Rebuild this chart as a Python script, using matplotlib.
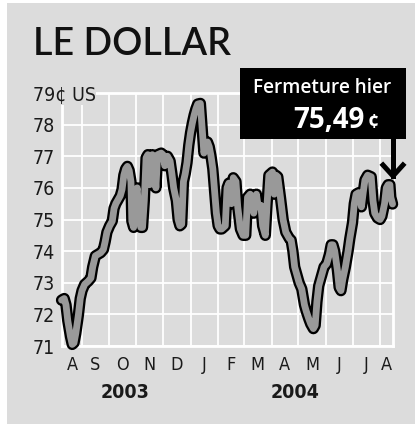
import numpy as np
import matplotlib
matplotlib.use('Agg')
import matplotlib.pyplot as plt
from matplotlib import font_manager as fm
from matplotlib.patches import Rectangle
from matplotlib.lines import Line2D

# data: jours depuis le 1er aout 2003, valeur du dollar canadien en cents US
jours = [8, 11, 13, 15, 18, 20, 22, 24, 27, 29,
         31, 34, 38, 41, 43, 46, 49, 52, 55, 57,
         59, 62, 65, 67, 69, 71, 74, 76, 78, 80,
         82, 84, 86, 87, 89, 91, 93, 95, 97, 99, 101,
         103, 105, 107, 110, 112, 114, 116, 120, 122, 124,
         127, 130, 132, 134, 137, 139, 141, 143,
         145, 147, 149, 151, 153, 155, 157, 159, 161, 164,
         166, 168, 170, 172, 174, 176, 178, 180, 182, 184, 186, 188,
         192, 194, 196, 199, 201, 204, 206, 209, 212, 215,
         217, 220, 224, 227, 229, 232, 234, 237, 239, 241,
         245, 247, 249, 251, 254, 257, 260, 264, 266, 268,
         270, 273, 275, 278, 281, 283, 286, 288, 291, 293,
         295, 297, 300, 303, 306, 309, 311, 313, 315, 318,
         320, 322, 324, 327, 330, 332, 335, 337, 339, 342,
         345, 347, 349, 352, 356, 358, 360, 363, 366, 368,
         371, 373, 375, 377, 378, 380]
cents = [72.45, 72.5, 72.3, 71.8, 71.3, 71.05, 71.1, 71.4, 72.0, 72.5,
         72.75, 72.95, 73.05, 73.15, 73.5, 73.85, 73.9, 73.95, 74.05, 74.3,
         74.6, 74.8, 74.95, 75.35, 75.5, 75.6, 75.75, 75.95, 76.4, 76.6,
         76.68, 76.55, 76.2, 74.95, 74.75, 75.7, 76.0, 75.1, 74.75, 74.75, 75.6,
         76.95, 77.05, 76.1, 77.05, 76.9, 76.0, 77.05, 77.1, 77.05, 76.7,
         77.0, 76.85, 76.45, 76.0, 75.6, 75.0, 74.8, 74.85,
         76.2, 76.45, 76.8, 77.35, 77.75, 78.05, 78.3, 78.5, 78.65, 78.67,
         77.9, 77.1, 77.35, 77.45, 77.3, 77.0, 76.6, 75.9, 75.2, 74.8, 74.7, 74.7,
         74.8, 76.0, 76.15, 75.5, 76.32, 76.2, 75.4, 74.7, 74.5, 74.5,
         75.7, 75.8, 75.2, 75.8, 75.4, 75.45, 74.8, 74.5, 75.5, 76.4,
         76.5, 75.8, 76.4, 76.35, 75.7, 75.0, 74.6, 74.4, 74.35, 74.0,
         73.5, 73.2, 73.0, 72.8, 72.3, 72.1, 71.85, 71.7, 71.55, 71.65,
         72.4, 72.9, 73.2, 73.5, 73.6, 73.9, 74.2, 74.2, 74.0, 73.4,
         72.85, 72.75, 73.1, 73.5, 74.0, 74.4, 74.9, 75.5, 75.8, 75.85,
         75.4, 75.85, 76.25, 76.4, 76.35, 75.6, 75.2, 75.05, 75.0, 75.1,
         75.5, 76.0, 76.1, 76.1, 75.7, 75.49]

mois = ['A', 'S', 'O', 'N', 'D', 'J', 'F', 'M', 'A', 'M', 'J', 'J', 'A']
annees = ['2003', '2004']
y_ticks = [71, 72, 73, 74, 75, 76, 77, 78, 79]
y_labels = ['71', '72', '73', '74', '75', '76', '77', '78', '']
unite = '79¢ US'
fermeture = '75,49'

# fonts
names = {f.name for f in fm.fontManager.ttflist}
if 'Liberation Sans Narrow' in names:
    cond = dict(family='Liberation Sans Narrow')
else:
    cond = dict(family='DejaVu Sans', stretch='condensed')
title_font = 'Lato' if 'Lato' in names else 'DejaVu Sans'
box_font = 'Open Sans' if 'Open Sans' in names else 'DejaVu Sans'

W, H = 415, 429
fig = plt.figure(figsize=(W / 100, H / 100), dpi=100)
bg = '#dcdcdc'
fig.patches.append(Rectangle((7 / W, 1 - 424 / H), 1, (424 - 3) / H,
                             transform=fig.transFigure, facecolor=bg,
                             edgecolor='none', zorder=-10))

ax = fig.add_axes([62 / W, 1 - 346 / H, (393 - 62) / W, (346 - 93) / H])
ax.set_zorder(1)
ax.set_facecolor(bg)

# month boundaries
starts_m = np.arange('2003-08', '2004-10', dtype='datetime64[M]').astype('datetime64[D]')
starts = (starts_m - np.datetime64('2003-08-01')).astype(int)
x0, x1 = 8.5, 380.5
ax.set_xlim(x0, x1)
ax.set_ylim(71, 79)

ax.set_xticks(starts[1:13])
ax.set_xticklabels([])
centers = [(max(starts[i], x0) + min(starts[i + 1], x1)) / 2 for i in range(13)]
ax.set_xticks(centers, minor=True)
ax.set_xticklabels(mois, minor=True, fontsize=13, color='#1a1a1a', **cond)
ax.tick_params(axis='x', which='both', length=0)
ax.tick_params(axis='x', which='minor', pad=7)

ax.set_yticks(y_ticks)
ax.set_yticklabels(y_labels, fontsize=14, ha='left', color='#1a1a1a', **cond)
ax.tick_params(axis='y', length=0, pad=21)

ax.grid(True, which='major', color='white', linewidth=1.3)
ax.set_axisbelow(True)
for s in ax.spines.values():
    s.set_color('white')
    s.set_linewidth(2)

ax.plot(jours, cents, color='black', linewidth=8.2, solid_joinstyle='round',
        solid_capstyle='round', clip_on=False, zorder=3)
ax.plot(jours, cents, color='#999999', linewidth=4.9, solid_joinstyle='round',
        solid_capstyle='round', clip_on=False, zorder=4)

# top label with unit, above the frame line
fig.text(33 / W, 1 - 95 / H, unite, fontsize=14, color='#1a1a1a', ha='left', va='center',
         bbox=dict(facecolor=bg, edgecolor='none', pad=0.3), zorder=5, **cond)

# years
ax.text(0.19, -0.185, annees[0], transform=ax.transAxes, ha='center', va='center',
        fontsize=14, fontweight='bold', color='#1a1a1a', **cond)
ax.text(0.704, -0.185, annees[1], transform=ax.transAxes, ha='center', va='center',
        fontsize=14, fontweight='bold', color='#1a1a1a', **cond)

# title
fig.text(33 / W, 1 - 55 / H, 'LE DOLLAR', fontsize=27, fontweight='semibold',
         family=title_font, color='#111111', ha='left', va='baseline')

# callout box
fig.patches.append(Rectangle((240 / W, 1 - 139 / H), (406 - 240) / W, (139 - 68) / H,
                             transform=fig.transFigure, facecolor='black',
                             edgecolor='none', zorder=5))
fig.text(322 / W, 1 - 93 / H, 'Fermeture hier', fontsize=13.7, fontweight='semibold',
         family=box_font, color='white', ha='center', va='baseline', zorder=6)
fig.text(365 / W, 1 - 128 / H, fermeture, fontsize=20, fontweight='bold',
         family=box_font, color='white', ha='right', va='baseline', zorder=6)
fig.text(368 / W, 1 - 128 / H, '¢', fontsize=14, fontweight='bold',
         family=box_font, color='white', ha='left', va='baseline', zorder=6)

# arrow
fig.add_artist(Line2D([393 / W, 393 / W], [1 - 139 / H, 1 - 176 / H], color='black',
                      linewidth=3.6, transform=fig.transFigure, zorder=6))
fig.add_artist(Line2D([383 / W, 393 / W, 403 / W], [1 - 165 / H, 1 - 176 / H, 1 - 165 / H],
                      color='black', linewidth=3.6, solid_joinstyle='miter',
                      transform=fig.transFigure, zorder=6))

fig.savefig('out.png', dpi=100, facecolor='white')
